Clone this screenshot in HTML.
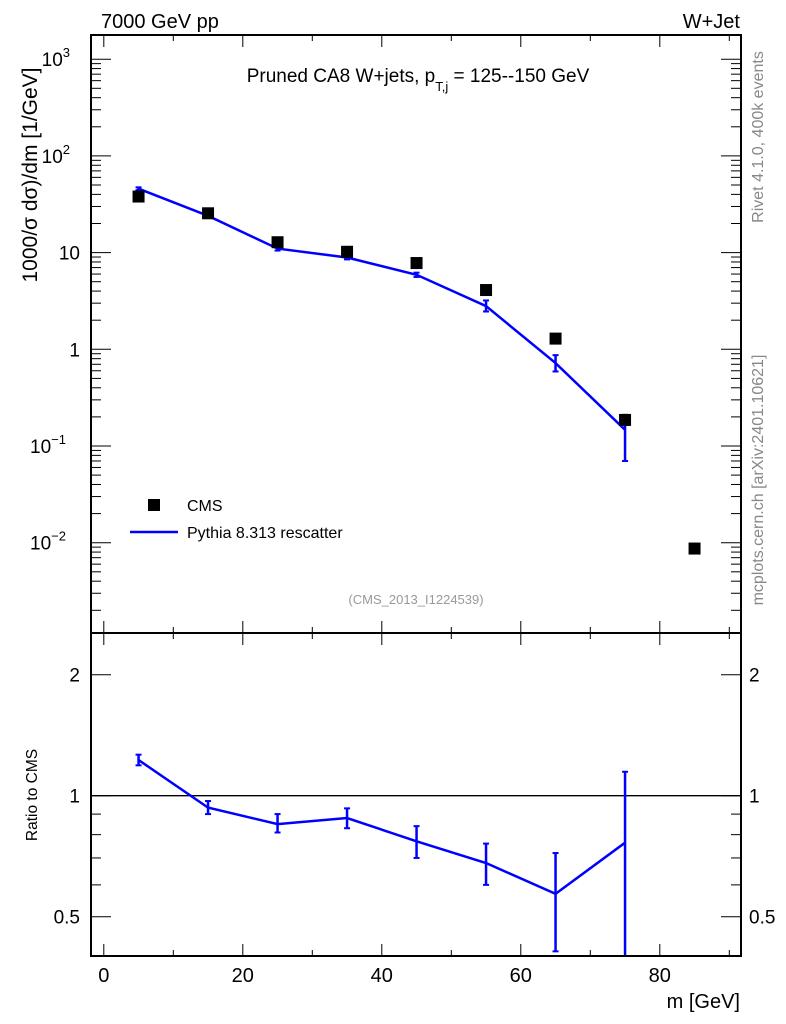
<!DOCTYPE html>
<html><head><meta charset="utf-8"><style>
html,body{margin:0;padding:0;background:#fff;}
svg{display:block;font-family:"Liberation Sans",sans-serif;}
</style></head><body>
<svg id="c" width="786" height="1024" viewBox="0 0 786 1024" xmlns="http://www.w3.org/2000/svg">
<text x="101" y="28" font-size="20">7000 GeV pp</text>
<text x="740" y="28" font-size="20" text-anchor="end">W+Jet</text>
<text x="418" y="82" font-size="19" text-anchor="middle">Pruned CA8 W+jets, p<tspan dy="9" font-size="13">T,j</tspan><tspan dy="-9"> = 125--150 GeV</tspan></text>
<text transform="translate(763,137) rotate(-90)" font-size="16" fill="#888" text-anchor="middle">Rivet 4.1.0,  400k events</text>
<text transform="translate(763,480) rotate(-90)" font-size="16" fill="#888" text-anchor="middle">mcplots.cern.ch [arXiv:2401.10621]</text>
<text transform="translate(37,175) rotate(-90)" font-size="21" text-anchor="middle">1000/σ  dσ)/dm [1/GeV]</text>
<text transform="translate(37,795) rotate(-90)" font-size="15.5" text-anchor="middle">Ratio to CMS</text>
<text x="740" y="1008" font-size="20" text-anchor="end">m [GeV]</text>
<text x="416" y="604" font-size="13" fill="#999" text-anchor="middle">(CMS_2013_I1224539)</text>
<rect x="148" y="499" width="12" height="12" fill="#000"/>
<text x="187" y="511" font-size="16">CMS</text>
<line x1="130" y1="532" x2="178" y2="532" stroke="#0000ff" stroke-width="2.5"/>
<text x="187" y="538" font-size="16">Pythia 8.313 rescatter</text>
<g id="g"></g>
</svg>
<script>
const xCenters=[5,15,25,35,45,55,65,75,85];
const cmsValues=[38,25.5,12.8,10.2,7.8,4.1,1.29,0.186,0.0087];
const mcX=[5,15,25,35,45,55,65,75];
const mcValues=[45.8,24,11,8.9,5.9,2.8,0.72,0.147];
const mcErrLo=[44.3,23.2,10.5,8.5,5.6,2.46,0.59,0.07];
const mcErrHi=[47.3,24.8,11.5,9.3,6.2,3.2,0.87,0.21];
const ratioValues=[1.227,0.934,0.85,0.88,0.77,0.68,0.57,0.764];
const ratioErrLo=[1.19,0.9,0.81,0.83,0.7,0.6,0.41,0.3];
const ratioErrHi=[1.265,0.97,0.9,0.93,0.84,0.76,0.72,1.147];
const xTicks=[0,20,40,60,80];
const yTickExp=[-2,-1,0,1,2,3];
const ratioTicks=[0.5,1,2];

const L=91,R=741,T=35,M=633,B=956;
const xs=v=>103.8+6.95*v;
const ys=v=>349.3-96.7*Math.log10(v);
const yr=v=>795.7-121*Math.log2(v);
const NS='http://www.w3.org/2000/svg';
const g=document.getElementById('g');
function mk(t,a){const e=document.createElementNS(NS,t);for(const k in a)e.setAttribute(k,a[k]);g.appendChild(e);return e;}
function ln(x1,y1,x2,y2,c,w){return mk('line',{x1,y1,x2,y2,stroke:c||'#000','stroke-width':w||1});}

let f=mk('rect',{x:L,y:T,width:R-L,height:M-T,fill:'none',stroke:'#000','stroke-width':2});


f=mk('rect',{x:L,y:M,width:R-L,height:B-M,fill:'none',stroke:'#000','stroke-width':2});



for(let v=0;v<=90;v+=10){const x=xs(v);const len=v%20===0?12:6;
 ln(x,M,x,M-len);ln(x,T,x,T+len);ln(x,B,x,B-len);ln(x,M,x,M+len);}
xTicks.forEach(v=>{const t=mk('text',{x:xs(v),y:982,'font-size':20,'text-anchor':'middle'});t.textContent=v;
 
 });

for(let e=-3;e<=3;e++){for(let k=1;k<10;k++){const v=k*Math.pow(10,e);const y=ys(v);if(y<T||y>M)continue;
 const len=k===1?20:10;ln(L,y,L+len,y);ln(R,y,R-len,y);}}
yTickExp.forEach(e=>{const y=ys(Math.pow(10,e));let t;
 if(e===0||e===1){t=mk('text',{x:80,y:y+7,'font-size':19,'text-anchor':'end'});t.textContent=e===0?'1':'10';}
 else{t=mk('text',{x:80,y:y+7,'font-size':19,'text-anchor':'end'});
  const s=document.createElementNS(NS,'tspan');s.textContent='10';t.appendChild(s);
  const s2=document.createElementNS(NS,'tspan');s2.setAttribute('dy','-9');s2.setAttribute('font-size','13');s2.textContent=e<0?'\u2212'+(-e):String(e);t.appendChild(s2);
  t.setAttribute('x',e<0?80-14:80-10);}
 
 });

[0.4,0.5,0.6,0.7,0.8,0.9,1,2].forEach(v=>{const y=yr(v);const len=(v===0.5||v===1||v===2)?20:10;ln(L,y,L+len,y);ln(R,y,R-len,y);});
ratioTicks.forEach(v=>{const y=yr(v);
 let t=mk('text',{x:80,y:y+7,'font-size':19,'text-anchor':'end'});t.textContent=v;
 
 
 t=mk('text',{x:749,y:y+7,'font-size':19});t.textContent=v;
 
 });
let one=ln(L,yr(1),R,yr(1),'#000',1.3);



let p=mk('polyline',{points:mcX.map((x,i)=>xs(x)+','+ys(mcValues[i])).join(' '),fill:'none',stroke:'#0000ff','stroke-width':2.5});


mcX.forEach((x,i)=>{const X=xs(x);const e=ln(X,ys(mcErrLo[i]),X,ys(mcErrHi[i]),'#0000ff',2.5);
 
 
 ln(X-3,ys(mcErrLo[i]),X+3,ys(mcErrLo[i]),'#0000ff',2);ln(X-3,ys(mcErrHi[i]),X+3,ys(mcErrHi[i]),'#0000ff',2);});
xCenters.forEach((x,i)=>{const r=mk('rect',{x:xs(x)-6,y:ys(cmsValues[i])-6,width:12,height:12,fill:'#000'});
 
 });

p=mk('polyline',{points:mcX.map((x,i)=>xs(x)+','+yr(ratioValues[i])).join(' '),fill:'none',stroke:'#0000ff','stroke-width':2.5});


mcX.forEach((x,i)=>{const X=xs(x);const lo=Math.min(yr(ratioErrLo[i]),B-1),hi=yr(ratioErrHi[i]);
 const e=ln(X,lo,X,hi,'#0000ff',2.5);
 
 
 if(lo<B-2)ln(X-3,lo,X+3,lo,'#0000ff',2);ln(X-3,hi,X+3,hi,'#0000ff',2);});
</script>
</body></html>
